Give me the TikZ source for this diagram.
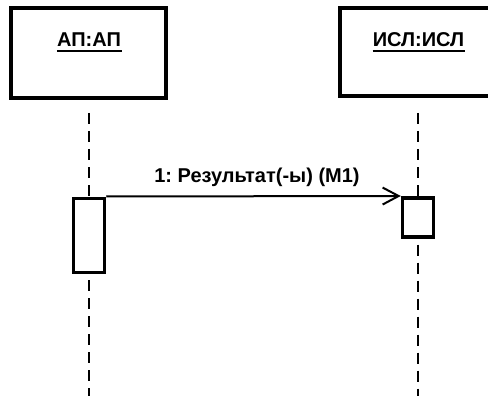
\documentclass[tikz,border=0pt]{standalone}
\usepackage{fontspec}
\setmainfont{Liberation Sans}
\frenchspacing
\usetikzlibrary{arrows.meta,positioning,calc}
\begin{document}
\begin{tikzpicture}[x=1pt,y=-1pt,
  objbox/.style={draw,line width=3.8pt,rectangle,inner sep=0pt},
  actbox/.style={draw,line width=3.5pt,rectangle,fill=white,inner sep=0pt,minimum width=31pt},
  lifeline/.style={line width=2.8pt,dash pattern=on 11pt off 7pt},
  objname/.style={inner sep=0pt,anchor=base,font=\fontsize{20}{24}\selectfont\bfseries},
  msg/.style={line width=2pt,-{Straight Barb[length=16pt,width=17pt,line width=2pt]}},
  msglabel/.style={inner sep=0pt,anchor=base,font=\fontsize{20}{24}\selectfont\bfseries}
]
\useasboundingbox (0,0) rectangle (488,396);
\clip (0,0) rectangle (488,396);
% object boxes
\node[objbox,minimum width=155pt,minimum height=90pt] (apbox) at (88.5,53) {};
\node[objbox,minimum width=156pt,minimum height=88pt] (islbox) at (418,52) {};
% names
\node[objname] (apname) at (89,47) {АП:АП};
\node[objname] (islname) at (418.5,47) {ИСЛ:ИСЛ};
\draw[line width=1.6pt] ($(apname.base west)+(0,4)$) -- ($(apname.base east)+(1,4)$);
\draw[line width=1.6pt] ($(islname.base west)+(0,4)$) -- ($(islname.base east)+(1,4)$);
% activation boxes
\node[actbox,minimum height=74pt,anchor=north] (act1) at (89,196.5) {};
\node[actbox,minimum height=39pt,anchor=north] (act2) at (418,196) {};
% lifelines
\coordinate (l1top) at (89,113);
\coordinate (l1bot) at (89,396);
\coordinate (l2top) at (418,113);
\coordinate (l2bot) at (418,396);
\draw[lifeline] (l1top) -- (act1.north);
\draw[lifeline] ($(act1.south)+(0,6)$) -- (l1bot);
\draw[lifeline] (l2top) -- (act2.north);
\draw[lifeline] ($(act2.south)+(0,6)$) -- (l2bot);
% message
\draw[msg] (act1.north east) -- (act2.north west);
\node[msglabel] (lbl) at (257,182.5) {1: Результат(-ы) (М1)};
\end{tikzpicture}
\end{document}
